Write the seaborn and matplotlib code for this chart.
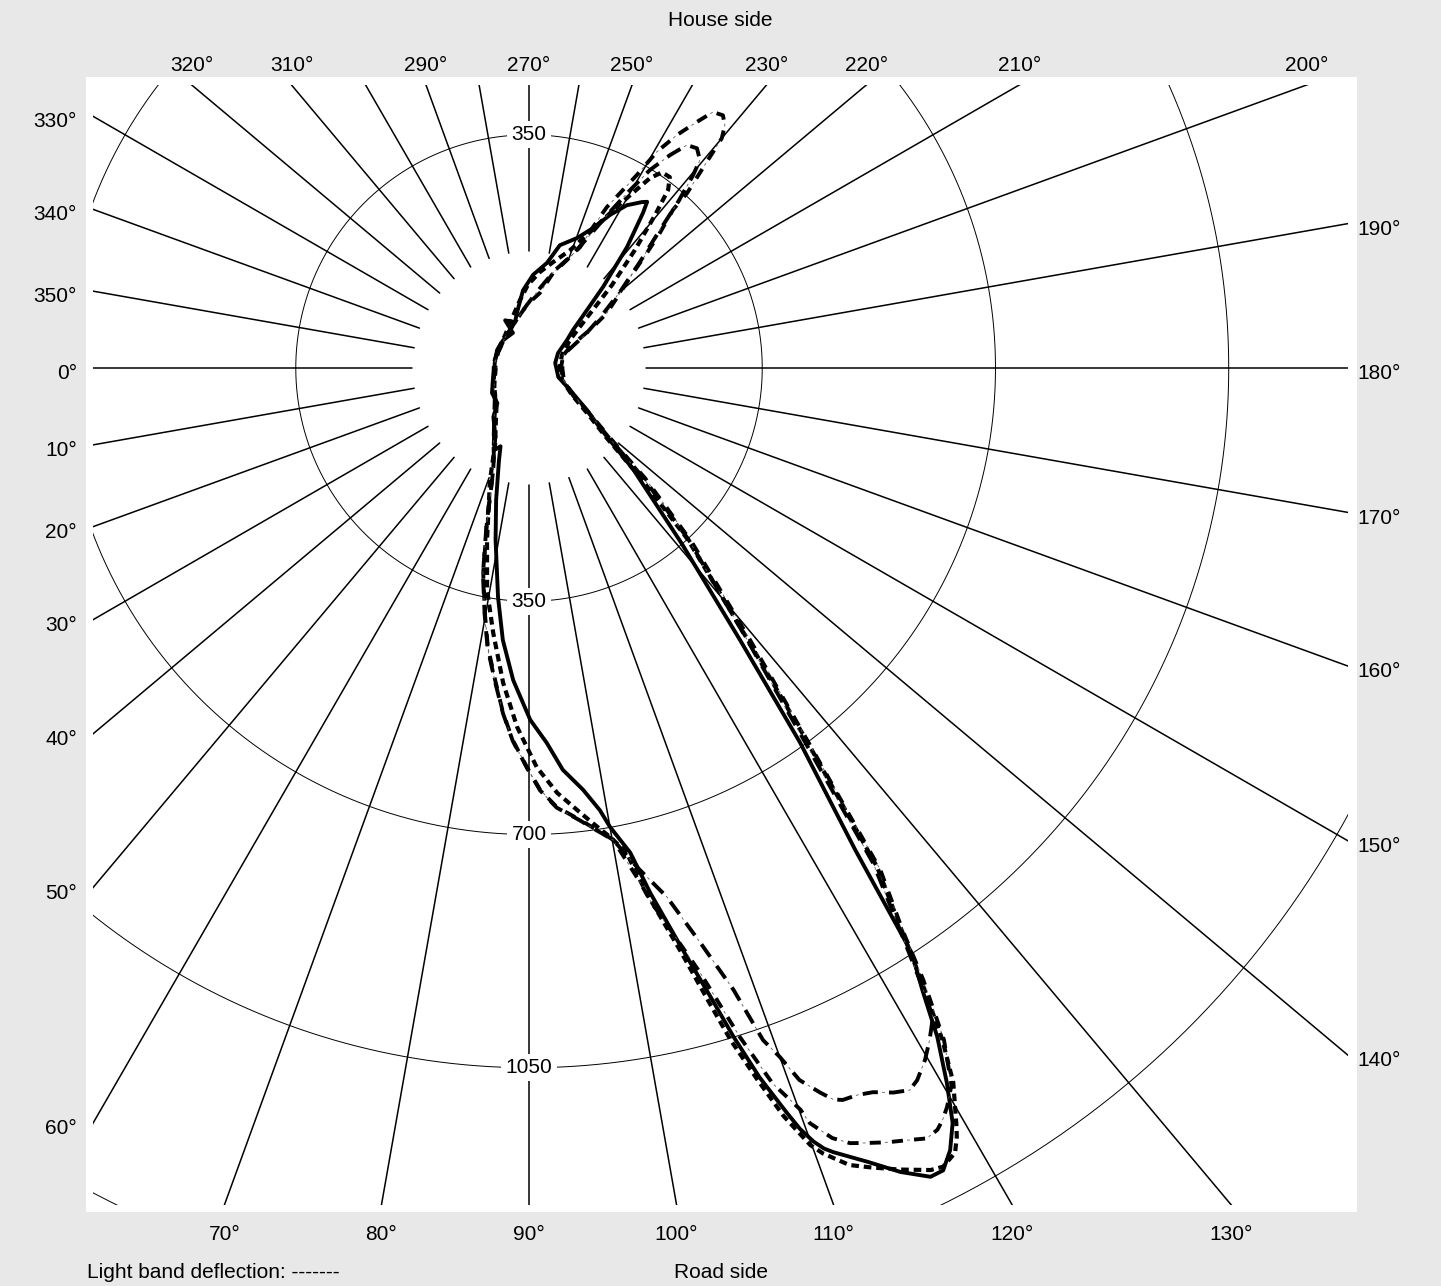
"""
Light distribution curve (polar, C-planes) redrawn on a cartesian frame.
"""
import numpy as np
import matplotlib
matplotlib.use("Agg")
import matplotlib.pyplot as plt
from matplotlib.patches import Rectangle
import seaborn as sns

# ---- data -----------------------------------------------------------------
spoke_angles = list(range(0, 360, 10))
label_angles = [330, 340, 350, 0, 10, 20, 30, 40, 50, 60,
                70, 80, 90, 100, 110, 120, 130,
                140, 150, 160, 170, 180, 190,
                200, 210, 220, 230, 250, 270, 290, 310, 320]
ring_values = [350, 700, 1050, 1400]
ring_label_angles = [270, 90, 90, 90]
ring_label_values = [350, 350, 700, 1050]

solid_ang = [0, 18, 34, 48, 54, 64, 67, 70, 72, 76, 79, 82.3, 84.5, 87.1, 90.2, 92.7, 94.8, 97.3, 99.1, 100.0,
             101.8, 103.0, 104.8, 106.1, 107.0, 108.0, 109.1, 109.6, 110.2, 110.7, 111.2, 113.1, 114.8, 116.4,
             117.3, 118.3, 119.3, 120.3, 121.4, 122.3, 123.2, 124.1, 125.9, 127.8, 131.0, 135.8, 139.8, 144.1,
             151.8, 162.8, 180, 190.9, 207.3, 216.4, 220.8, 225.0, 227.6, 231.0, 233.7, 234.6, 235.8, 239.0,
             242.1, 245.4, 249.7, 255.9, 260.3, 267.5, 274.4, 282.3, 286.9, 296.6, 294.6, 312.9, 330.6, 351.6, 360]
solid_cd = [52, 57, 67, 71, 91, 115, 134, 125, 146, 204, 263, 347, 410, 469, 528, 563, 605, 638, 672, 699,
            743, 808, 903, 982, 1049, 1119, 1183, 1212, 1237, 1252, 1262, 1295, 1329, 1355,
            1355, 1333, 1299, 1243, 1176, 1105, 1049, 873, 693, 517, 350, 218, 140, 107,
            70, 46, 41, 40, 49, 71, 87, 123, 165, 234, 289, 306, 301, 285,
            260, 231, 208, 190, 160, 140, 117, 85, 72, 80, 58, 57, 55, 52, 52]

dash_ang = [0, 20, 35, 50, 60, 66, 70.8, 76.3, 79.3, 82.3, 85.3, 88.1, 91.1, 93.8, 96.2, 98.0, 99.8, 101.4,
            101.8, 102.7, 104.6, 105.8, 106.7, 107.8, 108.8, 109.9, 110.5, 111.9, 113.1, 114.8, 116.6, 117.4,
            118.5, 119.1, 119.5, 120.7, 121.6, 122.7, 123.6, 124.9, 126.7, 128.9, 132.8, 135.5, 138.1, 142,
            147.9, 160, 180, 201.5, 214.3, 220.6, 225, 228.1, 230.5, 232.0, 233.6, 235.8, 237.5, 239.7, 242.4,
            245.8, 250.8, 257.2, 263.5, 270.7, 277.5, 288.8, 306, 329.9, 350.3, 360]
dash_cd = [50, 55, 64, 76, 100, 125, 178, 266, 339, 401, 474, 539, 599, 639, 667, 690, 714, 742,
           765, 811, 906, 986, 1053, 1122, 1186, 1240, 1258, 1289, 1304, 1325, 1346, 1350,
           1340, 1320, 1302, 1247, 1184, 1086, 1007, 913, 696, 519, 351, 233, 155, 112,
           76, 53, 46, 53, 74, 111, 176, 238, 297, 339, 356, 355, 338, 300, 262,
           224, 187, 163, 145, 125, 103, 79, 61, 54, 53, 50]

dd1_ang = [0, 20, 40, 55, 65, 68, 71.1, 74.8, 77.4, 79.8, 81.6, 83.8, 85.7, 87.5, 89.7, 91.5, 93.6, 96.4,
           98.4, 100.1, 102.2, 102.8, 105.8, 107.5, 108.8, 110.1, 110.4, 111.5, 112.5, 113.6, 114.8, 116.3,
           117.3, 118.2, 118.8, 119.5, 120.5, 121.7, 122.8, 123.6, 125.0, 126.7, 129.1, 133.1, 136.5, 139.2,
           143, 148.1, 159.6, 180, 201.8, 208.1, 212.6, 215.2, 219.5, 222.4, 224.3, 225.9, 227.7, 227.9,
           228.8, 229.4, 230.0, 231.1, 232.5, 234.3, 235.7, 237.6, 239.4, 240.8, 242.5, 244.2, 245.6, 247.1,
           250.6, 255.8, 261.7, 271.8, 286.9, 308.7, 332.7, 355, 360]
dd1_cd = [52, 56, 66, 90, 125, 140, 167, 241, 315, 374, 423, 471, 519, 559, 599, 633, 660, 682,
          701, 719, 790, 819, 943, 1053, 1134, 1185, 1209, 1242, 1259, 1269, 1280, 1292,
          1301, 1297, 1288, 1274, 1249, 1185, 1092, 1013, 919, 705, 526, 357, 240, 161,
          115, 80, 56, 50, 57, 73, 114, 143, 177, 211, 247, 282, 321, 354,
          389, 417, 450, 468, 478, 473, 447, 414, 377, 332, 296, 268, 232, 197,
          172, 147, 114, 95, 72, 58, 52, 52, 52]

dd2_ang = [0, 20, 40, 55, 65, 68, 71.1, 74.8, 77.4, 79.8, 81.6, 83.8, 85.7, 87.5, 89.7, 91.5, 93.6, 96.4,
           98.4, 100.1, 102.2, 104.6, 106.6, 108.2, 109.2, 110.0, 110.8, 111.9, 112.6, 113.2, 114.3, 115.4,
           116.7, 117.8, 118.6, 119.8, 120.8, 121.9, 122.5, 123.5, 124.8, 126.4, 128.8, 132.9, 136.2, 139,
           143, 148, 160, 180, 201, 210.5, 215.2, 219.9, 223.7, 226.5, 228.1, 229.6, 230.6, 232.6,
           234.7, 236.5, 238.6, 240.4, 242.6, 245.4, 249.2, 255.1, 262.2, 271.8, 286.9, 308.7, 332.7, 355, 360]
dd2_cd = [53, 57, 67, 91, 126, 141, 168, 243, 317, 376, 425, 473, 520, 560, 600, 634, 661, 683,
          702, 719, 766, 820, 900, 982, 1068, 1100, 1143, 1172, 1189, 1195, 1197, 1203,
          1217, 1225, 1217, 1196, 1174, 1147, 1095, 1005, 905, 700, 520, 352, 236, 158,
          113, 78, 55, 48, 55, 97, 130, 178, 230, 285, 335, 380, 404, 415,
          410, 383, 348, 307, 264, 219, 181, 152, 121, 95, 72, 58, 52, 53, 53]


def to_xy(ang, cd):
    """C-plane angle (0 = left, 90 = down) + intensity -> cartesian."""
    a = np.radians(np.asarray(ang, dtype=float))
    r = np.asarray(cd, dtype=float)
    return -r * np.cos(a), -r * np.sin(a)


# ---- style ----------------------------------------------------------------
sns.set_theme(style="white")
plt.rcParams["font.family"] = ["Liberation Sans", "DejaVu Sans"]
plt.rcParams["text.color"] = "black"
plt.rcParams["lines.scale_dashes"] = False
FS = 15

fig = plt.figure(figsize=(14.41, 12.86), dpi=100)
fig.patch.set_facecolor("#e8e8e8")
ax = fig.add_axes([86 / 1441, 74 / 1286, 1271 / 1441, 1135 / 1286])
ax.set_facecolor("white")
ax.set_xlim(-664.8, 1242.5)
ax.set_ylim(-1266.5, 436.7)
ax.set_xticks([])
ax.set_yticks([])
for sp in ax.spines.values():
    sp.set_visible(False)

# inner frame that clips the grid
x0, x1, y0, y1 = -654.3, 1229.0, -1256.0, 424.7
clip = Rectangle((x0, y0), x1 - x0, y1 - y0, transform=ax.transData)

# spokes
for a in spoke_angles:
    xs, ys = to_xy([a, a], [175, 4000])
    ln, = ax.plot(xs, ys, color="black", lw=1.1, zorder=1)
    ln.set_clip_path(clip)

# rings
th = np.linspace(0, 360, 1441)
for rv in ring_values:
    xs, ys = to_xy(th, np.full_like(th, rv))
    ln, = ax.plot(xs, ys, color="black", lw=0.7, zorder=1)
    ln.set_clip_path(clip)

for a, v in zip(ring_label_angles, ring_label_values):
    tx, ty = to_xy([a], [v])
    ax.text(tx[0], ty[0], str(v), ha="center", va="center", fontsize=FS, zorder=5,
            color="black", bbox=dict(boxstyle="square,pad=0.2", fc="white", ec="none"))

# angle labels around the frame
for a in label_angles:
    ux, uy = -np.cos(np.radians(a)), -np.sin(np.radians(a))
    cands = []
    if ux > 1e-9:
        cands.append((x1 / ux, "right"))
    if ux < -1e-9:
        cands.append((x0 / ux, "left"))
    if uy > 1e-9:
        cands.append((y1 / uy, "top"))
    if uy < -1e-9:
        cands.append((y0 / uy, "bottom"))
    t, side = min(cands)
    px, py = t * ux, t * uy
    if side == "top":
        off, ha, va = (0, 10), "center", "baseline"
    elif side == "bottom":
        off, ha, va = (0, -25), "center", "baseline"
    elif side == "left":
        off, ha, va = (-11.5, -8), "right", "baseline"
    else:
        off, ha, va = (7, -8), "left", "baseline"
    ax.annotate(f"{a}°", xy=(px, py), xytext=off, textcoords="offset points",
                ha=ha, va=va, fontsize=FS, color="black", annotation_clip=False)

# ---- curves ---------------------------------------------------------------
def draw(ang, cd, lw, ls, color="black", z=3):
    xs, ys = to_xy(ang, cd)
    sns.lineplot(x=xs, y=ys, sort=False, estimator=None, color=color,
                 linewidth=lw, linestyle=ls, ax=ax, zorder=z)
    ax.lines[-1].set_solid_joinstyle("round")
    ax.lines[-1].set_dash_capstyle("butt")

draw(solid_ang, solid_cd, 2.8, "-")
draw(dash_ang, dash_cd, 3.0, (0, (5.5, 3.5)))
draw(dd1_ang, dd1_cd, 2.8, (0, (8, 8)))
draw(dd1_ang, dd1_cd, 0.6, (5, (2, 14)), color="0.35")
draw(dd2_ang, dd2_cd, 2.8, (0, (11, 8)))
draw(dd2_ang, dd2_cd, 0.6, (5, (2, 17)), color="0.35")

if ax.get_legend() is not None:
    ax.get_legend().remove()
ax.set_xlim(-664.8, 1242.5)
ax.set_ylim(-1266.5, 436.7)

# ---- captions -------------------------------------------------------------
fig.text(0.5, 1 - 20 / 1286, "House side", ha="center", va="center", fontsize=FS, color="black")
fig.text(0.5, 13 / 1286, "Road side", ha="center", va="center", fontsize=FS, color="black")
fig.text(87 / 1441, 13 / 1286, "Light band deflection: -------", ha="left", va="center",
         fontsize=FS, color="black")

fig.savefig("out.png", dpi=100, facecolor=fig.get_facecolor())
